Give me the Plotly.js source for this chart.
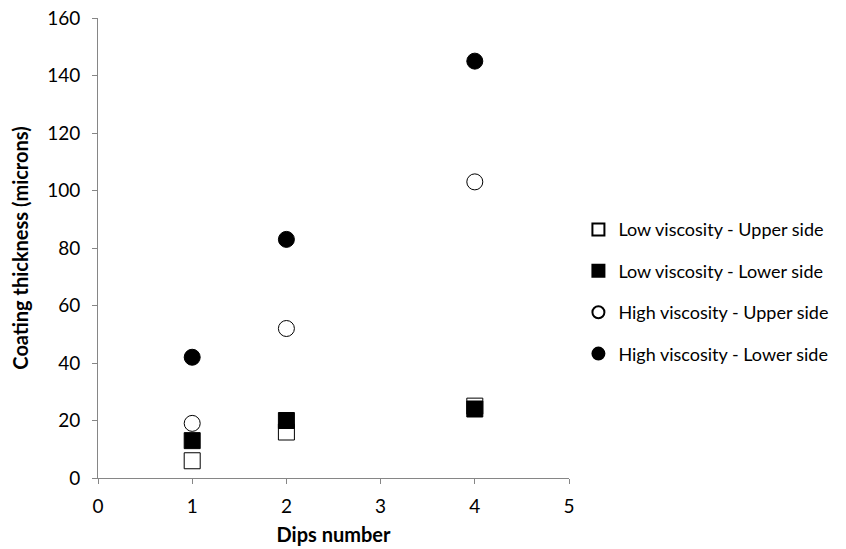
<!DOCTYPE html>
<html><head><meta charset="utf-8">
<script src="https://cdn.plot.ly/plotly-3.0.1.min.js"></script>
<style>body{margin:0;background:#fff}#c{width:846px;height:549px}</style>
</head><body><div id="c"></div>
<script>
const dips = [1, 2, 4];
const lowUpper = [6, 16, 25];
const lowLower = [13, 20, 24];
const highUpper = [19, 52, 103];
const highLower = [42, 83, 145];
const names = ["Low viscosity - Upper side", "Low viscosity - Lower side", "High viscosity - Upper side", "High viscosity - Lower side"];

const mk = (y, name, symbol, fill, g) => ({
  x: dips, y: y, name: name, mode: 'markers', type: 'scatter', legendgroup: g,
  marker: {symbol: symbol, size: 16, color: fill, line: {color: '#000', width: 1}}
});
const traces = [
  mk(lowUpper, names[0], 'square', '#fff', 'a'),
  mk(lowLower, names[1], 'square', '#000', 'b'),
  mk(highUpper, names[2], 'circle', '#fff', 'c'),
  mk(highLower, names[3], 'circle', '#000', 'd')
];
const fam = 'Lato, "Open Sans", sans-serif';
Plotly.newPlot('c', traces, {
  width: 846, height: 549,
  margin: {l: 98, r: 277, t: 18, b: 71},
  paper_bgcolor: '#fff', plot_bgcolor: '#fff',
  font: {family: fam, color: '#000', size: 19},
  showlegend: true,
  legend: {x: 1.02, xanchor: 'left', y: 0.58, yanchor: 'top', tracegroupgap: 15, font: {size: 18, color: '#000', family: fam}, itemsizing: 'constant'},
  xaxis: {range: [0, 5], dtick: 1, showgrid: false, zeroline: false, showline: true, linecolor: '#868686', linewidth: 1,
    ticks: 'outside', ticklen: 5, tickcolor: '#868686', tickfont: {size: 19}, ticklabelstandoff: 6,
    title: {text: '<b>Dips number</b>', font: {size: 20}, standoff: 12}},
  yaxis: {range: [0, 160], dtick: 20, showgrid: false, zeroline: false, showline: true, linecolor: '#868686', linewidth: 1,
    ticks: 'outside', ticklen: 5, tickcolor: '#868686', tickfont: {size: 19}, ticklabelstandoff: 8,
    title: {text: '<b>Coating thickness (microns)</b>', font: {size: 20}, standoff: 13}}
}, {displayModeBar: false, staticPlot: true});
</script></body></html>
